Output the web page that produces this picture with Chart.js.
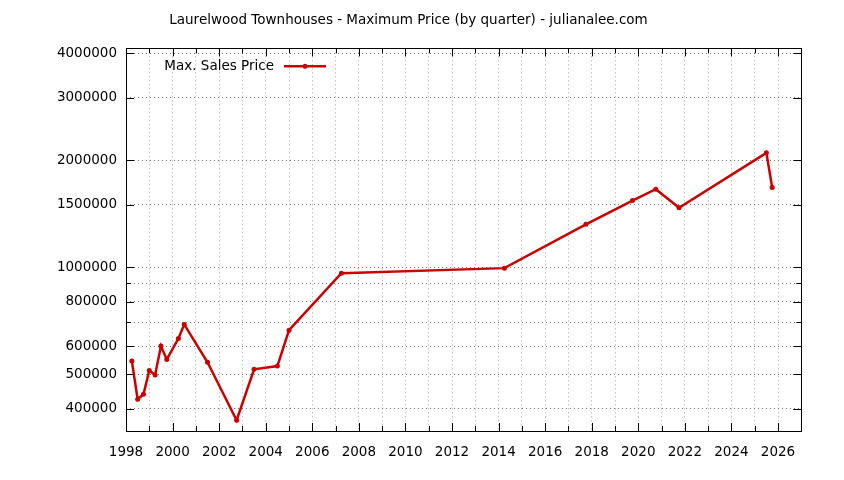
<!DOCTYPE html>
<html>
<head>
<meta charset="utf-8">
<script src="https://cdn.jsdelivr.net/npm/chart.js@4"></script>
<style>
  html, body { margin: 0; padding: 0; background: #ffffff; }
  #wrap { width: 844px; height: 480px; }
</style>
</head>
<body>
<div id="wrap"><canvas id="c" width="844" height="480"></canvas></div>
<script>
// ---- data ----
const quarters = [1998.25, 1998.5, 1998.75, 1999.0, 1999.25, 1999.5, 1999.75, 2000.25, 2000.5,
                  2001.5, 2002.75, 2003.5, 2004.5, 2005.0, 2007.25, 2014.25, 2017.75, 2019.75,
                  2020.75, 2021.75, 2025.5, 2025.75];
const maxPrice = [545000, 425000, 439000, 512000, 497000, 600000, 550000, 630000, 690000,
                  540000, 371000, 516000, 527000, 665000, 962000, 994000, 1320000, 1540000,
                  1658000, 1469000, 2098000, 1675000];
const yTickValues = [400000, 500000, 600000, 700000, 800000, 900000, 1000000, 1500000, 2000000, 3000000, 4000000];
const yTickLabels = [400000, 500000, 600000, 800000, 1000000, 1500000, 2000000, 3000000, 4000000];
const xTickYears = [];
for (let y = 1998; y <= 2027; y++) xTickYears.push(y);
const titleText = 'Laurelwood Townhouses - Maximum Price (by quarter) - julianalee.com';
const seriesName = 'Max. Sales Price';

const RED = '#cc0000';
const FONT = "'DejaVu Sans', sans-serif";

const framePlugin = {
  id: 'frame',
  beforeDatasetsDraw(chart) {
    const ctx = chart.ctx, a = chart.chartArea;
    const xs = chart.scales.x, ys = chart.scales.y;
    ctx.save();
    ctx.strokeStyle = '#000';
    ctx.lineWidth = 1;
    ctx.beginPath();
    // x ticks (inward, bottom and top)
    xTickYears.forEach(v => {
      const px = Math.round(xs.getPixelForValue(v)) + 0.5;
      const len = (v % 2 === 0) ? 8 : 5;
      ctx.moveTo(px, a.bottom); ctx.lineTo(px, a.bottom - len);
      ctx.moveTo(px, a.top); ctx.lineTo(px, a.top + len);
    });
    // y ticks (inward, left and right)
    yTickValues.forEach(v => {
      const py = Math.round(ys.getPixelForValue(v)) + 0.5;
      const len = yTickLabels.includes(v) ? 8 : 5;
      ctx.moveTo(a.left, py); ctx.lineTo(a.left + len, py);
      ctx.moveTo(a.right, py); ctx.lineTo(a.right - len, py);
    });
    ctx.stroke();
    ctx.strokeRect(Math.round(a.left) + 0.5, Math.round(a.top) + 0.5,
                   Math.round(a.right) - Math.round(a.left), Math.round(a.bottom) - Math.round(a.top));
    ctx.restore();
  },
  afterDraw(chart) {
    const ctx = chart.ctx, a = chart.chartArea;
    const ty = a.top + 18;
    const textRight = a.left + 148;
    ctx.save();
    ctx.font = '13.5px ' + FONT;
    ctx.fillStyle = '#000';
    ctx.textAlign = 'right';
    ctx.textBaseline = 'middle';
    ctx.fillText(seriesName, textRight, ty);
    ctx.strokeStyle = RED;
    ctx.lineWidth = 2.5;
    ctx.beginPath();
    ctx.moveTo(textRight + 10, ty);
    ctx.lineTo(textRight + 52, ty);
    ctx.stroke();
    ctx.fillStyle = RED;
    ctx.beginPath();
    ctx.arc(textRight + 31, ty, 2.5, 0, Math.PI * 2);
    ctx.fill();
    ctx.restore();
  }
};

new Chart(document.getElementById('c'), {
  type: 'line',
  data: {
    datasets: [{
      label: seriesName,
      data: quarters.map((q, i) => ({ x: q, y: maxPrice[i] })),
      borderColor: RED,
      backgroundColor: RED,
      borderWidth: 2.5,
      pointRadius: 2.5,
      pointHoverRadius: 2.5,
      pointBorderWidth: 0,
      tension: 0,
      fill: false
    }]
  },
  plugins: [framePlugin],
  options: {
    responsive: false,
    animation: false,
    events: [],
    layout: { padding: { left: 0, right: 27, top: 0, bottom: 0 } },
    plugins: {
      legend: { display: false },
      tooltip: { enabled: false },
      title: {
        display: true,
        text: titleText,
        color: '#000',
        font: { family: FONT, size: 13.5, weight: 'normal', lineHeight: 1.2 },
        padding: { top: 12.5, bottom: 19.6 }
      }
    },
    scales: {
      x: {
        type: 'linear',
        position: 'bottom',
        min: 1998,
        max: 2027,
        afterBuildTicks(scale) { scale.ticks = xTickYears.map(v => ({ value: v })); },
        afterFit(scale) { scale.height = 49; },
        grid: { color: '#a8a8a8', lineWidth: 1, drawTicks: false },
        border: { display: false, dash: [1, 3] },
        ticks: {
          autoSkip: false, maxRotation: 0, minRotation: 0, padding: 13,
          color: '#000',
          font: { family: FONT, size: 13.5 },
          callback: v => (v % 2 === 0 ? String(v) : '')
        }
      },
      y: {
        type: 'logarithmic',
        position: 'left',
        min: 346000,
        max: 4130000,
        afterBuildTicks(scale) { scale.ticks = yTickValues.map(v => ({ value: v })); },
        afterFit(scale) { scale.width = 126; },
        grid: { color: '#707070', lineWidth: 1, drawTicks: false },
        border: { display: false, dash: [1, 3] },
        ticks: {
          autoSkip: false, padding: 9,
          color: '#000',
          font: { family: FONT, size: 13.5 },
          callback: v => (yTickLabels.includes(v) ? String(v) : '')
        }
      },
      yRight: {
        type: 'linear',
        position: 'right',
        display: true,
        afterFit(scale) { scale.width = 15.7; },
        grid: { display: false, drawTicks: false },
        border: { display: false },
        ticks: { display: false }
      }
    }
  }
});
</script>
</body>
</html>
